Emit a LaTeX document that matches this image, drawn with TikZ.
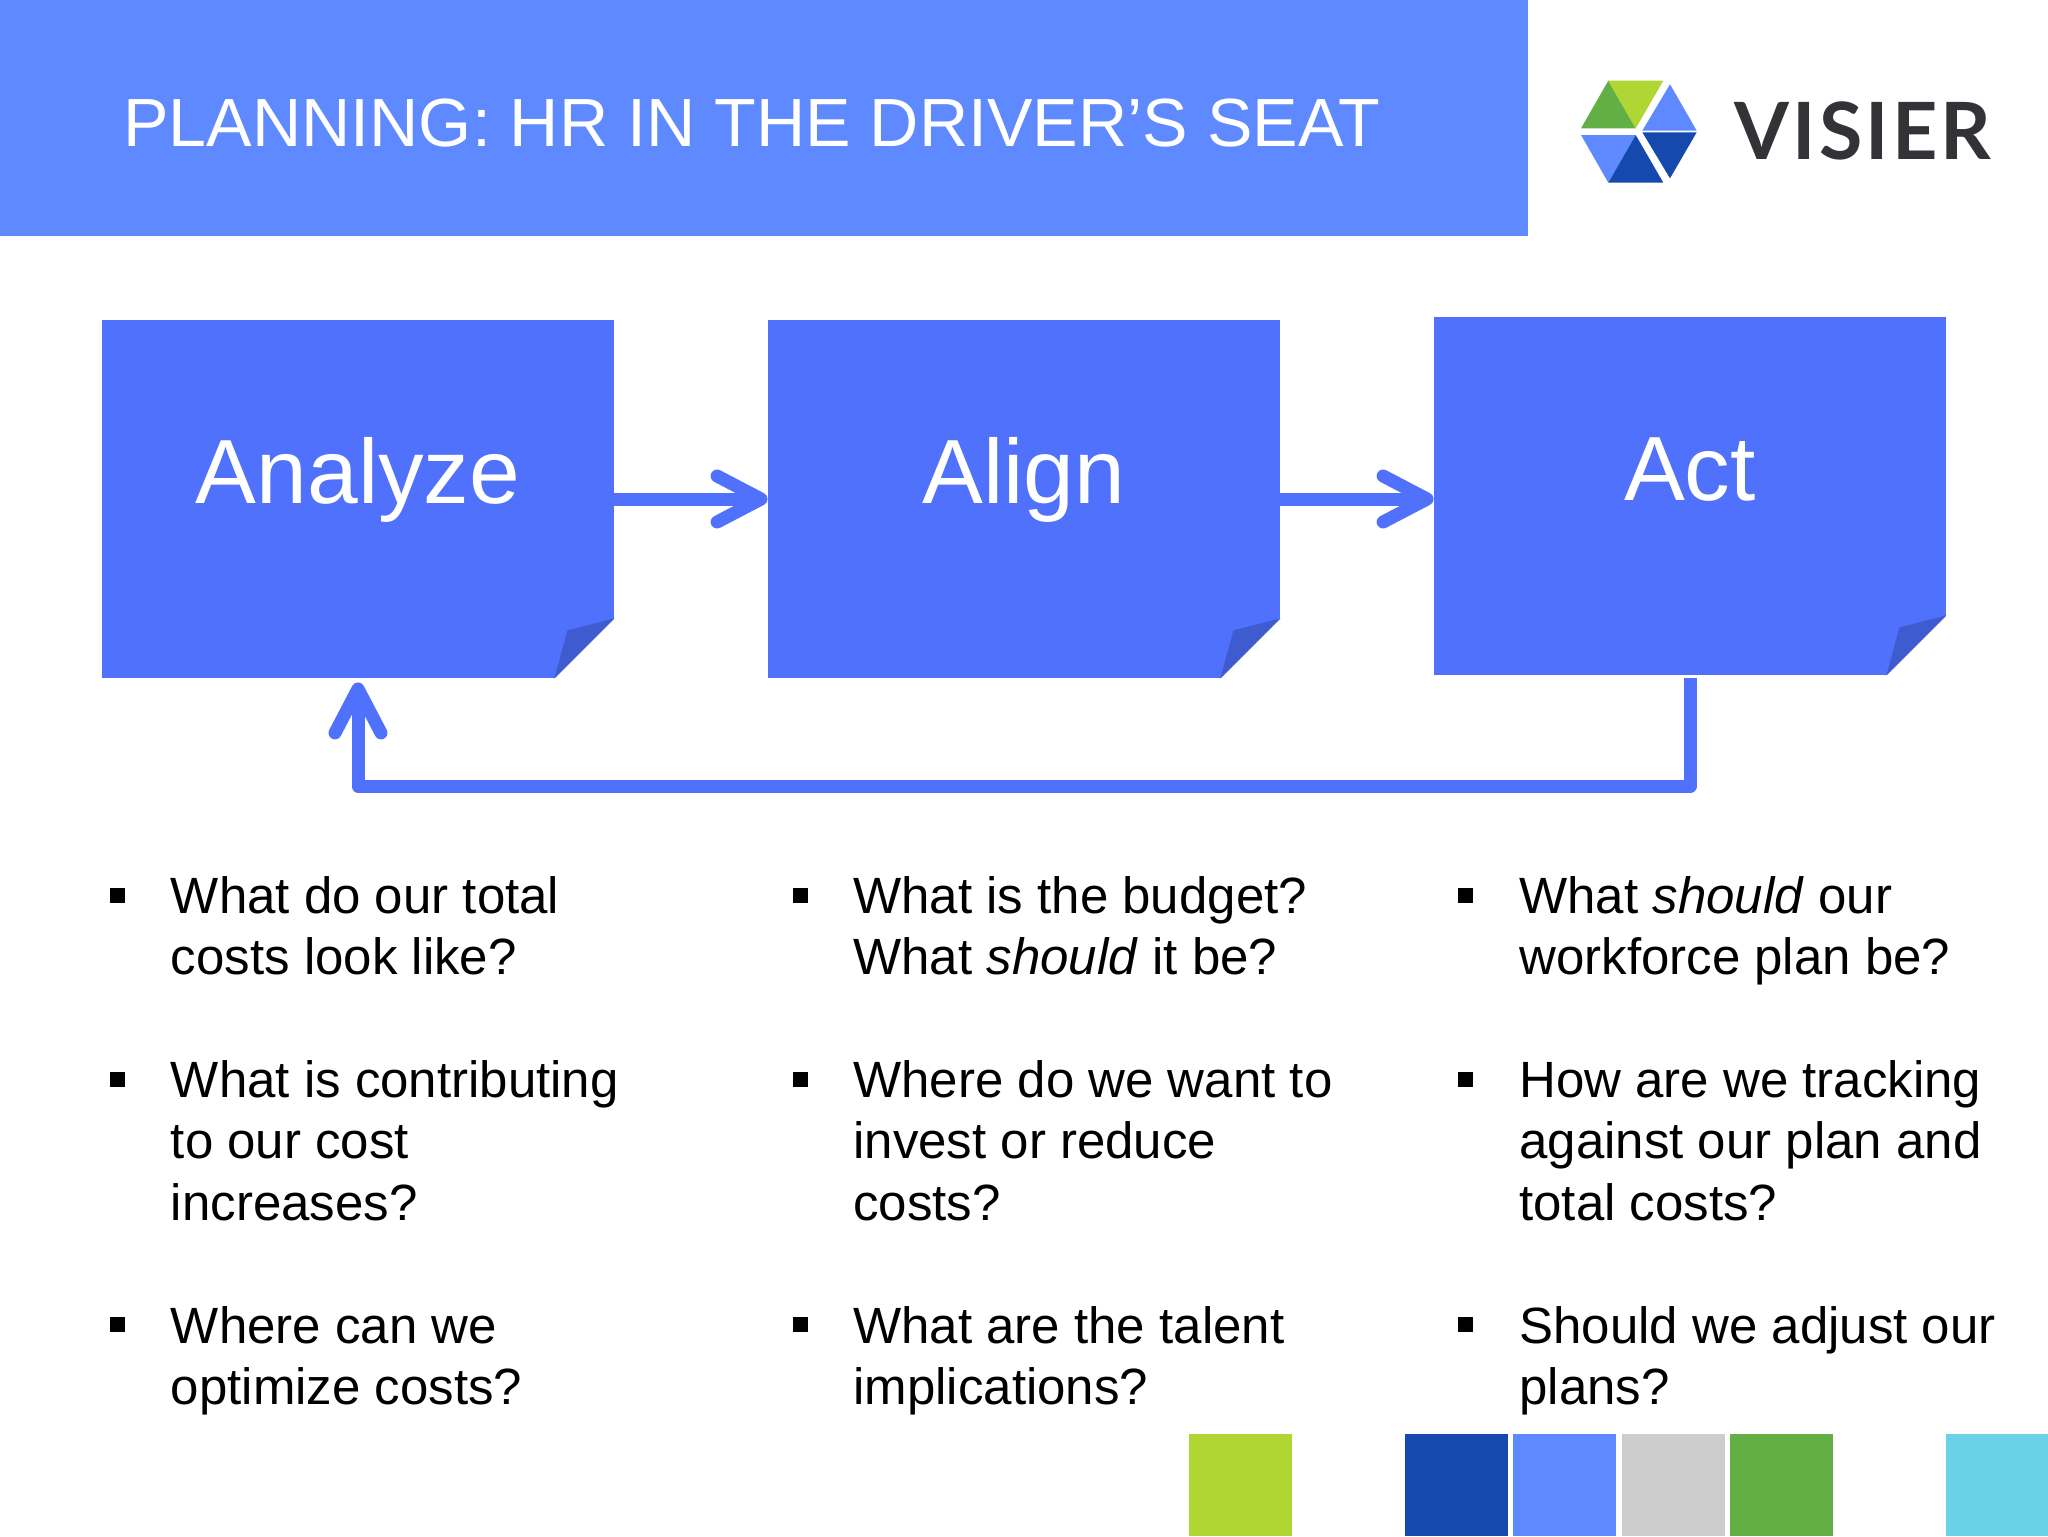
\documentclass[tikz,border=0pt]{standalone}
\usepackage{fontspec}
\setmainfont{Liberation Sans}
\newfontfamily\logofont[LetterSpace=4]{Lato}
\usetikzlibrary{arrows.meta}
\definecolor{headblue}{HTML}{5F8AFF}
\definecolor{boxblue}{HTML}{4F71FB}
\definecolor{foldblue}{HTML}{3F5BD0}
\definecolor{navy}{HTML}{1649AD}
\definecolor{lime}{HTML}{B0D634}
\definecolor{leaf}{HTML}{61AF45}
\definecolor{silver}{HTML}{CECDCD}
\definecolor{sky}{HTML}{6AD1E6}
\definecolor{logotext}{HTML}{333236}
\tikzset{
  stage/.style={fill=boxblue,text=white,minimum width=256pt,minimum height=179pt,inner sep=0pt,
    font=\fontsize{45.6}{50}\selectfont,text height=32pt,text depth=28pt},
  flow/.style={draw=boxblue,line width=6.5pt,line join=round,
    -{Straight Barb[length=22pt,width=23pt,round,line width=6.5pt]}},
  qtext/.style={anchor=base west,inner sep=0pt,align=left,font=\fontsize{25.5}{30.7}\selectfont},
  bulletmark/.style={fill=black,minimum size=7.5pt,inner sep=0pt},
  swatch/.style={inner sep=0pt,minimum height=51pt,anchor=south west},
}
\newcommand{\foldcorner}[1]{%
  \fill[white] ([xshift=-30pt]#1.south east) -- ([yshift=30pt]#1.south east) -- ([xshift=1pt,yshift=-1pt]#1.south east) -- cycle;
  \fill[foldblue] ([xshift=-30pt]#1.south east) -- ([xshift=-23.5pt,yshift=24pt]#1.south east) -- ([yshift=30pt]#1.south east) -- cycle;}
\begin{document}
\begin{tikzpicture}[x=0.5pt,y=-0.5pt]
\useasboundingbox (0,0) rectangle (2048,1536);
\fill[headblue] (0,0) rectangle (1528,236);
\node[anchor=base west,inner sep=0pt,text=white,font=\fontsize{34.1}{38}\selectfont] (title) at (123,147) {PLANNING: HR IN THE DRIVER’S SEAT};
% logo
\fill[leaf] (1608.3,80.7) -- (1581,128.3) -- (1635.7,128.3) -- cycle;
\fill[lime] (1608.3,80.7) -- (1663.3,80.7) -- (1635.7,128.3) -- cycle;
\fill[headblue] (1670,84.3) -- (1696.7,130.7) -- (1642.3,130.7) -- cycle;
\fill[navy] (1642.3,132.3) -- (1696.7,132.3) -- (1670,178.3) -- cycle;
\fill[headblue] (1581,135) -- (1635.7,135) -- (1608.3,182.7) -- cycle;
\fill[navy] (1635.7,135) -- (1663.3,182.7) -- (1608.3,182.7) -- cycle;
\node[anchor=base west,inner sep=0pt,text=logotext,font=\logofont\bfseries\fontsize{39.5}{42}\selectfont] (logo) at (1734,159) {VISIER};
% stages
\node[stage] (analyze) at (358,499) {Analyze};
\node[stage] (align) at (1024,499) {Align};
\node[stage] (act) at (1690,496) {Act};
\foldcorner{analyze}
\foldcorner{align}
\foldcorner{act}
% connectors
\draw[flow] (analyze.east) -- (align.west);
\draw[flow] (align.east) -- (align.east -| act.west);
\draw[flow,shorten >=2pt,shorten <=1.5pt] (act.south) -- ++(0,111) -| (analyze.south);
% questions
\foreach \bx/\by/\nm in {117.5/895.5/a1,117.5/1079.5/a2,117.5/1324.5/a3,800.5/895.5/b1,800.5/1079.5/b2,800.5/1324.5/b3,1465.5/895.5/c1,1465.5/1079.5/c2,1465.5/1324.5/c3}
  \node[bulletmark] (\nm) at (\bx,\by) {};
\node[qtext] (qa1) at (170.5,974.4) {What do our total\\costs look like?};
\node[qtext] (qa2) at (170.5,1220.3) {What is contributing\\to our cost\\increases?};
\node[qtext] (qa3) at (170.5,1404.9) {Where can we\\optimize costs?};
\node[qtext] (qb1) at (853,974.4) {What is the budget?\\What \textit{should} it be?};
\node[qtext] (qb2) at (853,1220.3) {Where do we want to\\invest or reduce\\costs?};
\node[qtext] (qb3) at (853,1404.9) {What are the talent\\implications?};
\node[qtext] (qc1) at (1519,974.4) {What \textit{should} our\\workforce plan be?};
\node[qtext] (qc2) at (1519,1220.3) {How are we tracking\\against our plan and\\total costs?};
\node[qtext] (qc3) at (1519,1404.9) {Should we adjust our\\plans?};
% swatches
\node[swatch,fill=lime,minimum width=51.5pt] (s1) at (1189,1536) {};
\node[swatch,fill=navy,minimum width=51.5pt] (s2) at (1405,1536) {};
\node[swatch,fill=headblue,minimum width=51.5pt] (s3) at (1513,1536) {};
\node[swatch,fill=silver,minimum width=51.5pt] (s4) at (1622,1536) {};
\node[swatch,fill=leaf,minimum width=51.5pt] (s5) at (1730,1536) {};
\node[swatch,fill=sky,minimum width=51pt] (s6) at (1946,1536) {};
\end{tikzpicture}
\end{document}
